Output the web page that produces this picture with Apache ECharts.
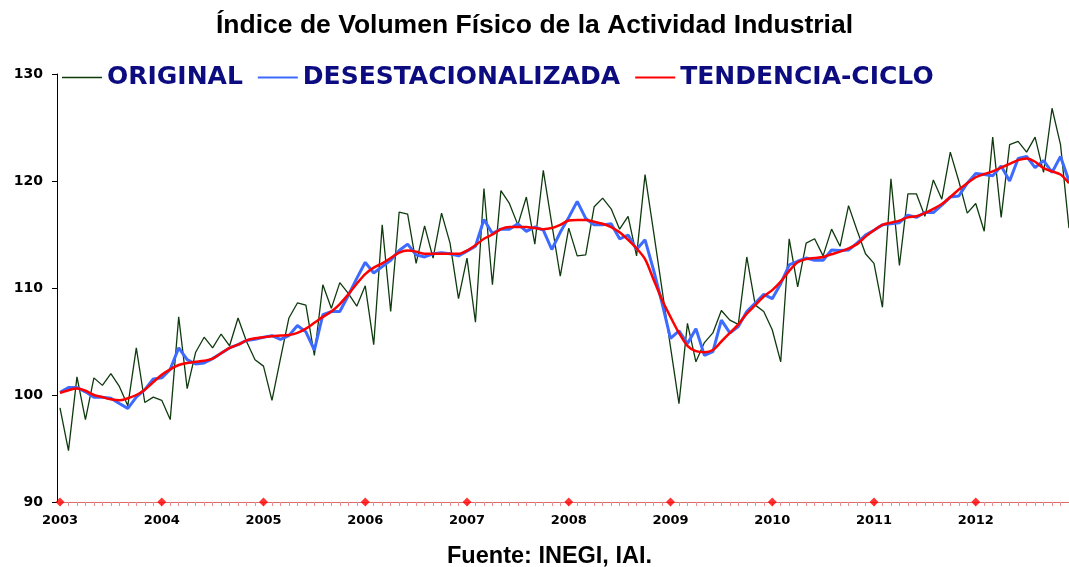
<!DOCTYPE html>
<html>
<head>
<meta charset="utf-8">
<title>Índice de Volumen Físico de la Actividad Industrial</title>
<script src="https://cdn.jsdelivr.net/npm/echarts@6/dist/echarts.min.js"></script>
<style>
  html, body { margin: 0; padding: 0; background: #fff; }
  #main { width: 1069px; height: 567px; }
</style>
</head>
<body>
<div id="main"></div>
<script>
var years = ['2003', '2004', '2005', '2006', '2007', '2008', '2009', '2010', '2011', '2012'];
var yTicks = [90, 100, 110, 120, 130];

// serie original, mensual ene-2003 a dic-2012
var original = [
  98.8, 94.8, 101.7, 97.7, 101.6, 100.9, 102.0, 100.8, 99.0, 104.4, 99.3, 99.8,
  99.5, 97.7, 107.3, 100.6, 104.0, 105.4, 104.4, 105.7, 104.6, 107.2, 105.0, 103.3,
  102.7, 99.5, 103.4, 107.2, 108.6, 108.4, 103.7, 110.3, 108.1, 110.5, 109.5, 108.3,
  110.2, 104.7, 115.9, 107.8, 117.1, 116.9, 112.3, 115.8, 112.8, 117.0, 114.2, 109.0,
  112.8, 106.8, 119.3, 110.3, 119.1, 117.9, 115.9, 118.5, 114.1, 121.0, 116.0, 111.1,
  115.6, 113.0, 113.1, 117.6, 118.4, 117.4, 115.5, 116.7, 113.0, 120.6, 115.3, 109.9,
  104.5, 99.2, 106.7, 103.1, 104.9, 105.8, 107.9, 107.0, 106.6, 112.9, 108.4, 107.8,
  106.1, 103.1, 114.6, 110.1, 114.2, 114.6, 113.0, 115.5, 113.9, 117.7, 115.4, 113.2,
  112.3, 108.2, 120.2, 112.1, 118.8, 118.8, 116.7, 120.1, 118.3, 122.7, 120.0, 117.0,
  117.9, 115.3, 124.1, 116.6, 123.4, 123.7, 122.7, 124.1, 120.8, 126.8, 123.4, 115.6
];

var desestacionalizada = [
  100.25, 100.7, 100.7, 100.3, 99.8, 99.8, 99.7, 99.2, 98.75, 99.8, 100.5, 101.5,
  101.6, 102.4, 104.4, 103.3, 102.9, 103.0, 103.4, 103.9, 104.4, 104.7, 105.1, 105.2,
  105.4, 105.55, 105.2, 105.55, 106.5, 105.9, 104.2, 107.5, 107.8, 107.8, 109.3, 110.9,
  112.4, 111.4, 112.0, 112.6, 113.5, 114.1, 113.1, 112.9, 113.2, 113.3, 113.2, 113.0,
  113.45, 113.9, 116.4, 115.1, 115.5, 115.5, 116.0, 115.3, 115.7, 115.4, 113.6, 115.2,
  116.6, 118.1, 116.5, 115.9, 115.9, 116.0, 114.6, 114.95, 113.6, 114.5, 111.7, 108.6,
  105.3, 106.0, 104.8, 106.2, 103.7, 104.05, 107.0, 105.8, 106.4, 107.8, 108.6, 109.4,
  109.0, 110.4, 112.15, 112.5, 112.8, 112.6, 112.6, 113.55, 113.5, 113.55, 114.2, 114.95,
  115.4, 115.9, 116.0, 116.1, 116.8, 116.6, 117.05, 117.05, 117.75, 118.5, 118.6, 119.8,
  120.7, 120.6, 120.5, 121.4, 120.0, 122.1, 122.3, 121.25, 121.9, 120.8, 122.3, 120.0
];

var tendencia = [
  100.2, 100.45, 100.6, 100.4, 100.0, 99.8, 99.6, 99.5, 99.7, 100.0, 100.5, 101.2,
  101.9, 102.4, 102.8, 103.0, 103.1, 103.2, 103.4, 103.9, 104.4, 104.7, 105.1, 105.3,
  105.4, 105.5, 105.55, 105.6, 105.8, 106.2, 106.75, 107.3, 107.8, 108.5, 109.4, 110.4,
  111.3, 111.9, 112.3, 112.8, 113.3, 113.5, 113.4, 113.2, 113.2, 113.2, 113.2, 113.2,
  113.5, 114.0, 114.6, 115.0, 115.5, 115.7, 115.7, 115.7, 115.6, 115.5, 115.6, 115.9,
  116.3, 116.35, 116.35, 116.2, 116.0, 115.7, 115.2, 114.5, 113.7, 112.7, 110.8, 108.9,
  107.3, 105.8, 104.6, 104.1, 104.0, 104.2, 105.0, 105.8, 106.6, 107.6, 108.4, 109.2,
  109.8, 110.6, 111.6, 112.4, 112.7, 112.8, 112.9, 113.15, 113.4, 113.7, 114.1, 114.8,
  115.4, 115.9, 116.1, 116.3, 116.6, 116.7, 117.0, 117.4, 117.85, 118.5, 119.2, 119.8,
  120.35, 120.65, 120.9, 121.25, 121.6, 121.95, 122.1, 121.8, 121.2, 120.9, 120.6, 119.8
];

// categorias mensuales y marcas de enero
var meses = [];
var eneros = [];
for (var i = 0; i < years.length; i++) {
  for (var m = 1; m <= 12; m++) {
    var c = years[i] + '-' + (m < 10 ? '0' + m : m);
    meses.push(c);
    if (m === 1) eneros.push([c, yTicks[0]]);
  }
}

// iconos de leyenda: solo una linea horizontal (sin simbolo)
function lineIcon(h) {
  var y0 = (14 - h) / 2;
  return 'path://M0,0h40v0.01h-40zM0,13.99h40v0.01h-40zM0,' + y0 + 'h40v' + h + 'h-40z';
}

var chart = echarts.init(document.getElementById('main'));
var option = {
  animation: false,
  title: [
    {
      text: 'Índice de Volumen Físico de la Actividad Industrial',
      left: 'center',
      top: 7,
      textStyle: { fontFamily: 'Liberation Sans', fontWeight: 'bold', fontSize: 26.5, color: '#000' }
    },
    {
      text: 'Fuente: INEGI, IAI.',
      left: 442,
      top: 540,
      textStyle: { fontFamily: 'Liberation Sans', fontWeight: 'bold', fontSize: 23.5, color: '#000' }
    }
  ],
  legend: {
    left: 57,
    top: 60,
    itemWidth: 40,
    itemHeight: 14,
    itemGap: 15,
    data: [
      { name: 'ORIGINAL', icon: lineIcon(1.4) },
      { name: 'DESESTACIONALIZADA', icon: lineIcon(2.2) },
      { name: 'TENDENCIA-CICLO', icon: lineIcon(2.2) }
    ],
    textStyle: { fontFamily: 'DejaVu Sans', fontWeight: 'bold', fontSize: 25, color: '#0c0c80' }
  },
  grid: { left: 60, right: -3, top: 74, bottom: 65, containLabel: false },
  xAxis: {
    type: 'category',
    boundaryGap: false,
    data: meses,
    axisLine: { lineStyle: { color: '#e06a6a', width: 1 } },
    axisTick: { interval: 0, length: 4, lineStyle: { color: '#e89090' } },
    axisLabel: {
      interval: 11,
      margin: 12,
      fontFamily: 'DejaVu Sans',
      fontWeight: 'bold',
      fontSize: 13,
      color: '#000',
      formatter: function (v) { return v.slice(0, 4); }
    },
    splitLine: { show: false }
  },
  yAxis: {
    type: 'value',
    min: yTicks[0],
    max: yTicks[yTicks.length - 1],
    interval: 10,
    offset: 3,
    axisLine: { show: true, lineStyle: { color: '#000', width: 1 } },
    axisTick: { show: true, length: 5, lineStyle: { color: '#000' } },
    axisLabel: {
      margin: 14,
      fontFamily: 'DejaVu Sans',
      fontWeight: 'bold',
      fontSize: 14,
      color: '#000'
    },
    splitLine: { show: false }
  },
  series: [
    {
      name: 'ORIGINAL',
      type: 'line',
      symbol: 'none',
      data: original,
      lineStyle: { color: '#0e3a0e', width: 1.3 },
      itemStyle: { color: '#0e3a0e' }
    },
    {
      name: 'DESESTACIONALIZADA',
      type: 'line',
      symbol: 'none',
      data: desestacionalizada,
      lineStyle: { color: '#3d6bff', width: 3 },
      itemStyle: { color: '#3d6bff' }
    },
    {
      name: 'TENDENCIA-CICLO',
      type: 'line',
      symbol: 'none',
      smooth: 0.3,
      data: tendencia,
      lineStyle: { color: '#ff0000', width: 2.5 },
      itemStyle: { color: '#ff0000' }
    },
    {
      name: 'enero',
      type: 'scatter',
      symbol: 'diamond',
      symbolSize: 9,
      clip: false,
      z: 5,
      data: eneros,
      itemStyle: { color: '#ff0000' }
    }
  ]
};
chart.setOption(option);
window.addEventListener('resize', function () { chart.resize(); });
</script>
</body>
</html>
